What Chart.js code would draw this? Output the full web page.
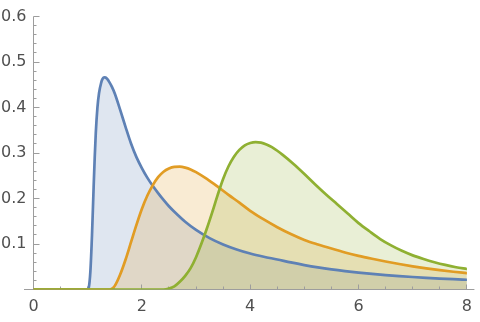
<!DOCTYPE html>
<html><head><meta charset="utf-8">
<script src="https://cdn.jsdelivr.net/npm/chart.js@4"></script>
<style>html,body{margin:0;padding:0;background:#fff}#wrap{width:480px;height:322px}</style>
</head><body><div id="wrap"><canvas id="c" width="480" height="322"></canvas></div>
<script>
// tick labels
const xTickLabels = [0, 2, 4, 6, 8];
const yTickLabels = [0.1, 0.2, 0.3, 0.4, 0.5, 0.6];

// series
const blueX = [0, 1.0, 1.02, 1.05, 1.08, 1.11, 1.13, 1.15, 1.18, 1.21, 1.25, 1.27, 1.29, 1.31, 1.33, 1.36, 1.40, 1.45, 1.5, 1.6, 1.7, 1.8, 1.9, 2.0, 2.1, 2.2, 2.3, 2.4, 2.5, 2.6, 2.8, 3.0, 3.25, 3.5, 3.75, 4.0, 4.25, 4.5, 4.75, 5.0, 5.25, 5.5, 5.75, 6.0, 6.25, 6.5, 6.75, 7.0, 7.25, 7.5, 7.75, 8.0];
const blueY = [0, 0, 0.004, 0.04, 0.12, 0.225, 0.29, 0.345, 0.40, 0.432, 0.455, 0.462, 0.4655, 0.4665, 0.466, 0.463, 0.456, 0.445, 0.431, 0.395, 0.357, 0.321, 0.291, 0.267, 0.246, 0.228, 0.212, 0.197, 0.183, 0.171, 0.149, 0.131, 0.113, 0.099, 0.088, 0.079, 0.072, 0.066, 0.0595, 0.0537, 0.0486, 0.0442, 0.0404, 0.0371, 0.0342, 0.0317, 0.0295, 0.0275, 0.0257, 0.0241, 0.0227, 0.0214];

const orangeX = [0, 1.4, 1.45, 1.5, 1.6, 1.7, 1.8, 1.9, 2.0, 2.1, 2.2, 2.3, 2.4, 2.5, 2.6, 2.7, 2.8, 2.9, 3.0, 3.2, 3.4, 3.6, 3.8, 4.0, 4.25, 4.5, 4.75, 5.0, 5.25, 5.5, 5.75, 6.0, 6.25, 6.5, 6.75, 7.0, 7.25, 7.5, 7.75, 8.0];
const orangeY = [0, 0, 0.002, 0.008, 0.033, 0.066, 0.104, 0.142, 0.177, 0.206, 0.229, 0.247, 0.259, 0.266, 0.2695, 0.270, 0.268, 0.264, 0.258, 0.243, 0.226, 0.208, 0.191, 0.173, 0.154, 0.137, 0.122, 0.109, 0.099, 0.090, 0.0815, 0.074, 0.0675, 0.0615, 0.056, 0.051, 0.0465, 0.0425, 0.039, 0.036];

const greenX = [0, 2.4, 2.5, 2.6, 2.7, 2.8, 2.9, 3.0, 3.1, 3.2, 3.3, 3.4, 3.5, 3.6, 3.7, 3.8, 3.9, 4.0, 4.1, 4.2, 4.3, 4.4, 4.5, 4.6, 4.8, 5.0, 5.2, 5.4, 5.6, 5.8, 6.0, 6.2, 6.4, 6.6, 6.8, 7.0, 7.2, 7.4, 7.6, 7.8, 8.0];
const greenY = [0, 0, 0.002, 0.007, 0.017, 0.030, 0.047, 0.071, 0.101, 0.134, 0.170, 0.208, 0.243, 0.271, 0.292, 0.307, 0.317, 0.322, 0.324, 0.323, 0.319, 0.313, 0.305, 0.296, 0.276, 0.254, 0.231, 0.209, 0.188, 0.167, 0.146, 0.128, 0.111, 0.097, 0.085, 0.075, 0.067, 0.060, 0.054, 0.049, 0.045];

const toPts = (xs, ys) => xs.map((x, i) => ({x: x, y: ys[i]}));

const axisPlugin = {
  id: 'mmaAxes',
  beforeDatasetsDraw(chart) {
    const {ctx, chartArea: a, scales: {x, y}} = chart;
    const snap = p => Math.round(p - 0.5) + 0.5;
    const x0 = snap(x.getPixelForValue(0));
    const y0 = snap(y.getPixelForValue(0));
    ctx.save();
    ctx.strokeStyle = '#9d9d9d';
    ctx.lineWidth = 1;
    ctx.beginPath();
    ctx.moveTo(a.left - 9.5, y0); ctx.lineTo(a.right + 7.5, y0);
    ctx.moveTo(x0, y0); ctx.lineTo(x0, snap(a.top));
    for (let k = 1; k <= 16; k++) {
      const p = snap(x.getPixelForValue(k * 0.5));
      const len = (k % 4 === 0) ? 5 : 3;
      ctx.moveTo(p, y0); ctx.lineTo(p, y0 - len);
    }
    for (let k = 1; k <= 30; k++) {
      const p = snap(y.getPixelForValue(k * 0.02));
      const len = (k % 5 === 0) ? 6 : 3;
      ctx.moveTo(x0, p); ctx.lineTo(x0 + len, p);
    }
    ctx.stroke();
    ctx.restore();
  }
};

const tickFont = {family: 'DejaVu Sans', size: 16};

new Chart(document.getElementById('c'), {
  type: 'line',
  data: {
    datasets: [
      {data: toPts(blueX, blueY), borderColor: '#5E81B5', backgroundColor: 'rgba(94,129,181,0.2)', fill: 'origin', order: 3},
      {data: toPts(orangeX, orangeY), borderColor: '#E19C24', backgroundColor: 'rgba(225,156,36,0.2)', fill: 'origin', order: 2},
      {data: toPts(greenX, greenY), borderColor: '#8FB032', backgroundColor: 'rgba(143,176,50,0.2)', fill: 'origin', order: 1}
    ]
  },
  options: {
    responsive: false,
    animation: false,
    devicePixelRatio: 1,
    elements: {
      point: {radius: 0, hoverRadius: 0},
      line: {borderWidth: 2.7, cubicInterpolationMode: 'monotone', borderJoinStyle: 'round', borderCapStyle: 'round'}
    },
    plugins: {
      legend: {display: false},
      tooltip: {enabled: false},
      filler: {drawTime: 'beforeDatasetsDraw'}
    },
    layout: {padding: {left: 0, top: 10.5, right: 11.5, bottom: 0}},
    scales: {
      x: {
        type: 'linear', min: 0, max: 8,
        grid: {display: false, drawTicks: false},
        border: {display: false},
        ticks: {padding: 8, color: '#505050', font: tickFont, maxRotation: 0, autoSkip: false, callback: v => String(v)},
        afterBuildTicks: s => { s.ticks = xTickLabels.map(v => ({value: v})); },
        afterFit: s => { s.height = 32.5; }
      },
      y: {
        type: 'linear', min: 0, max: 0.6,
        grid: {display: false, drawTicks: false},
        border: {display: false},
        ticks: {padding: 7, color: '#505050', font: tickFont, autoSkip: false, callback: v => Number(v).toFixed(1)},
        afterBuildTicks: s => { s.ticks = yTickLabels.map(v => ({value: v})); },
        afterFit: s => { s.width = 33.5; }
      }
    }
  },
  plugins: [axisPlugin]
});
</script>
</body></html>
